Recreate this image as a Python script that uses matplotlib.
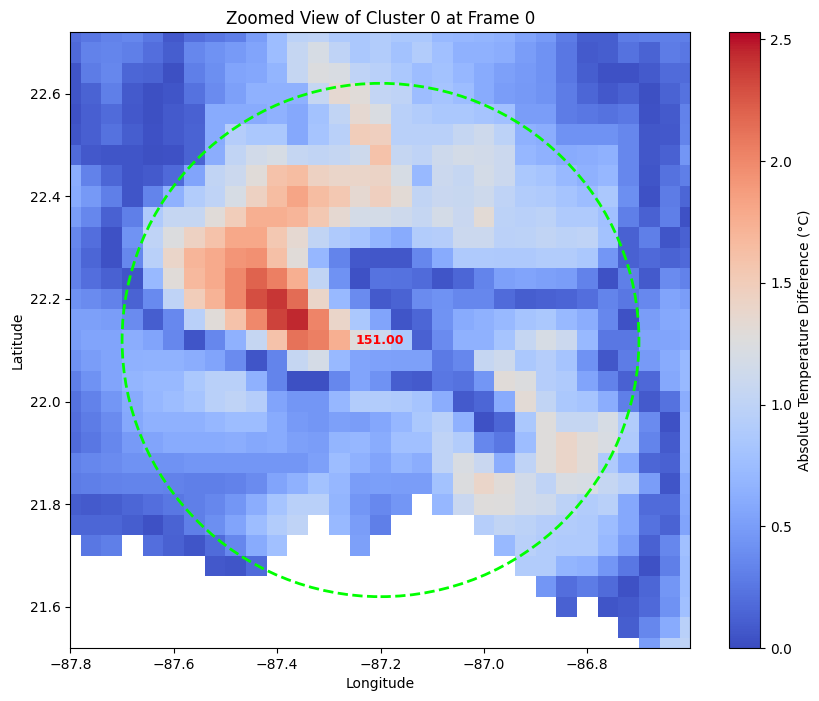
import numpy as np
import matplotlib
matplotlib.use('Agg')
import matplotlib.pyplot as plt

n = float('nan')

# cell centres of the zoom window
lons = np.linspace(-87.8, -86.6, 31)
lats = np.linspace(22.72, 21.52, 31)

# absolute temperature difference, rows north to south
temp_diff = [
    [.20,.25,.32,.35,.25,.07,.20,.25,.30,.50,.75,.98,1.0,.88,.85,.90,.85,.85,.72,.70,.68,.65,.55,.48,.28,.10,.10,.28,.30,.30,.30],
    [.17,.32,.34,.30,.20,.10,.35,.42,.48,.55,.75,1.05,1.2,1.0,.85,.90,.80,.90,.78,.65,.65,.62,.50,.42,.25,.08,.10,.22,.13,.28,.25],
    [.05,.28,.35,.15,.13,.02,.30,.40,.55,.57,.68,1.05,1.25,1.22,1.0,.95,.85,.75,.80,.70,.60,.52,.48,.42,.25,.10,.03,.03,.08,.18,.18],
    [.05,.13,.30,.08,.02,.05,.22,.38,.52,.65,.65,.65,1.05,1.35,1.3,1.03,1.0,.75,.82,.75,.60,.50,.47,.43,.28,.15,.07,.12,.02,.13,.22],
    [.03,.11,.18,.07,.02,.08,.12,.60,.60,.60,.65,.58,.80,1.02,1.35,1.23,.95,.90,.85,.85,.82,.78,.50,.50,.28,.25,.22,.26,.03,.08,.32],
    [.05,.11,.22,.10,.03,.08,.13,.60,.92,.85,.85,.58,.82,.95,1.5,1.47,.95,.95,.95,1.05,1.12,.98,.65,.62,.42,.42,.42,.35,.06,.07,.33],
    [.18,.07,.05,.05,.02,.03,.13,.62,1.02,1.15,1.2,1.05,1.02,1.05,1.12,1.6,1.05,1.0,1.12,1.17,1.15,1.1,.70,.65,.60,.62,.65,.35,.06,.12,.45],
    [.62,.32,.15,.05,.08,.17,.55,1.02,1.1,1.3,1.6,1.65,1.45,1.4,1.4,1.42,1.2,.72,1.1,1.05,1.17,1.1,.85,.82,.72,.65,.70,.35,.05,.22,.30],
    [.60,.47,.30,.05,.33,.65,.90,1.0,1.2,1.45,1.65,1.82,1.65,1.55,1.35,1.47,1.32,1.02,1.08,1.07,1.12,1.0,.90,.88,.82,.75,.85,.40,.03,.28,.15],
    [.50,.35,.12,.30,.88,1.05,1.05,1.3,1.5,1.75,1.75,1.7,1.55,1.35,1.17,1.17,1.12,1.05,1.17,1.08,1.32,.98,.95,.98,.88,.88,.78,.30,.12,.30,.03],
    [.35,.20,.03,.43,1.0,1.25,1.45,1.6,1.8,1.8,1.55,1.35,1.02,.88,.82,.68,.60,.90,.92,1.1,1.1,.97,.98,1.02,.98,1.0,.80,.12,.30,.05,.12],
    [.32,.15,.03,.35,.95,1.4,1.7,1.78,1.92,1.95,1.62,1.3,.70,.33,.07,.06,.06,.35,.60,.88,.88,.87,.87,.90,.90,.85,.45,.12,.17,.13,.17],
    [.32,.20,.12,.05,.72,1.3,1.68,1.78,2.0,2.2,2.05,1.75,1.02,.42,.03,.23,.22,.18,.05,.15,.33,.52,.55,.52,.50,.32,.03,.30,.08,.38,.32],
    [.42,.38,.32,.13,.37,1.0,1.5,1.72,2.0,2.3,2.4,2.15,1.4,.72,.38,.08,.13,.38,.42,.35,.35,.18,.10,.12,.14,.20,.33,.25,.36,.55,.50],
    [.52,.52,.50,.38,.10,.36,.95,1.3,1.6,2.0,2.35,2.45,2.02,1.4,.85,.55,.05,.15,.43,.60,.65,.72,.82,.85,.72,.62,.35,.03,.50,.58,.60],
    [.50,.55,.55,.62,.55,.35,.05,.35,.65,1.05,1.6,2.12,2.05,1.75,1.28,1.1,.85,.12,.38,.65,.65,.82,1.05,1.2,1.1,.72,.25,.25,.55,.55,.58],
    [.42,.50,.55,.65,.66,.66,.62,.55,.38,.05,.33,1.05,1.18,.72,.55,.53,.52,.52,.27,.35,1.05,1.12,.85,.92,.82,.42,.06,.28,.48,.60,.72],
    [.30,.42,.55,.68,.72,.72,.85,.95,.95,.65,.33,.02,.02,.35,.55,.42,.10,.08,.25,.22,.45,1.3,1.25,.92,.88,.55,.32,.12,.16,.58,.72],
    [.22,.32,.45,.60,.70,.75,.82,.95,1.0,.92,.55,.45,.45,.70,.90,.90,.88,.82,.62,.08,.15,.60,1.32,1.02,.85,.82,.62,.30,.08,.22,.62],
    [.20,.28,.38,.58,.65,.65,.65,.70,.75,.75,.60,.48,.45,.52,.50,.57,.70,.85,.95,.65,.03,.15,.85,1.28,1.05,1.05,1.2,.90,.38,.03,.70],
    [.18,.25,.35,.48,.55,.60,.60,.60,.62,.58,.60,.52,.50,.68,.70,.61,.78,.78,1.0,.90,.35,.25,.75,1.28,1.4,1.3,1.22,.88,.33,.08,.70],
    [.32,.35,.38,.42,.42,.42,.45,.45,.45,.45,.45,.45,.52,.75,.65,.55,.68,.62,1.0,1.22,1.08,.62,1.0,1.28,1.4,1.3,.88,.60,.15,.12,.68],
    [.28,.30,.32,.33,.33,.32,.30,.30,.32,.38,.55,.65,.80,.70,.50,.51,.50,.50,.80,1.25,1.4,1.3,1.15,1.0,1.22,1.2,1.05,.95,.50,.05,.60],
    [.10,.08,.10,.15,.20,.25,.30,.35,.45,.62,.82,.95,.95,.68,.45,.36,.45,n,.70,1.08,1.28,1.27,1.15,1.12,.98,.90,.95,.58,.18,.18,.58],
    [.15,.15,.15,.10,.03,.13,.30,.40,.55,.75,.90,1.0,n,.72,.50,.30,n,n,n,n,.93,1.02,.98,.92,.90,.88,.75,.58,.22,.13,.55],
    [n,.25,.30,n,.20,.12,.05,.18,.35,.60,.78,n,n,n,.52,n,n,n,n,n,n,.72,.95,.90,.88,.88,.72,.50,.12,.35,.78],
    [n,n,n,n,n,n,n,.07,.05,.18,n,n,n,n,n,n,n,n,n,n,n,n,.90,.90,.68,.65,.45,.25,.03,.30,.75],
    [n,n,n,n,n,n,n,n,n,n,n,n,n,n,n,n,n,n,n,n,n,n,n,.45,.20,.28,.18,.03,.15,.45,.75],
    [n,n,n,n,n,n,n,n,n,n,n,n,n,n,n,n,n,n,n,n,n,n,n,n,.12,n,.05,.08,.17,.42,.78],
    [n,n,n,n,n,n,n,n,n,n,n,n,n,n,n,n,n,n,n,n,n,n,n,n,n,n,n,.10,.35,.60,.95],
    [n,n,n,n,n,n,n,n,n,n,n,n,n,n,n,n,n,n,n,n,n,n,n,n,n,n,n,n,.50,.95,1.0],
]
vmax_diff = 2.53

center_lon = -87.2
center_lat = 22.12
radius = 0.5
max_label = '151.00'

fig = plt.figure(figsize=(8.2, 7.01), dpi=100)
ax = fig.add_axes([70.4/820, 1 - 648/701, 620/820, 616/701])
cax = fig.add_axes([729.5/820, 1 - 648/701, 30.8/820, 616/701])

mesh = ax.pcolormesh(lons, lats, np.array(temp_diff), cmap='coolwarm', vmin=0, vmax=vmax_diff, shading='nearest')
# right edge just short of -86.6 so that tick does not show
ax.set_xlim(-87.8, -86.6005)
ax.set_ylim(21.52, 22.72)

circle = plt.Circle((center_lon, center_lat), radius, color='lime', fill=False, linestyle='--', linewidth=2)
ax.add_patch(circle)
ax.text(-87.248, 22.12, max_label, color='red', fontsize=9, fontweight='bold', ha='left', va='center')

ax.set_xlabel('Longitude')
ax.set_ylabel('Latitude')
ax.set_title('Zoomed View of Cluster 0 at Frame 0')

cbar = fig.colorbar(mesh, cax=cax)
cbar.set_label('Absolute Temperature Difference (°C)')

fig.savefig('out.png', dpi=100)
